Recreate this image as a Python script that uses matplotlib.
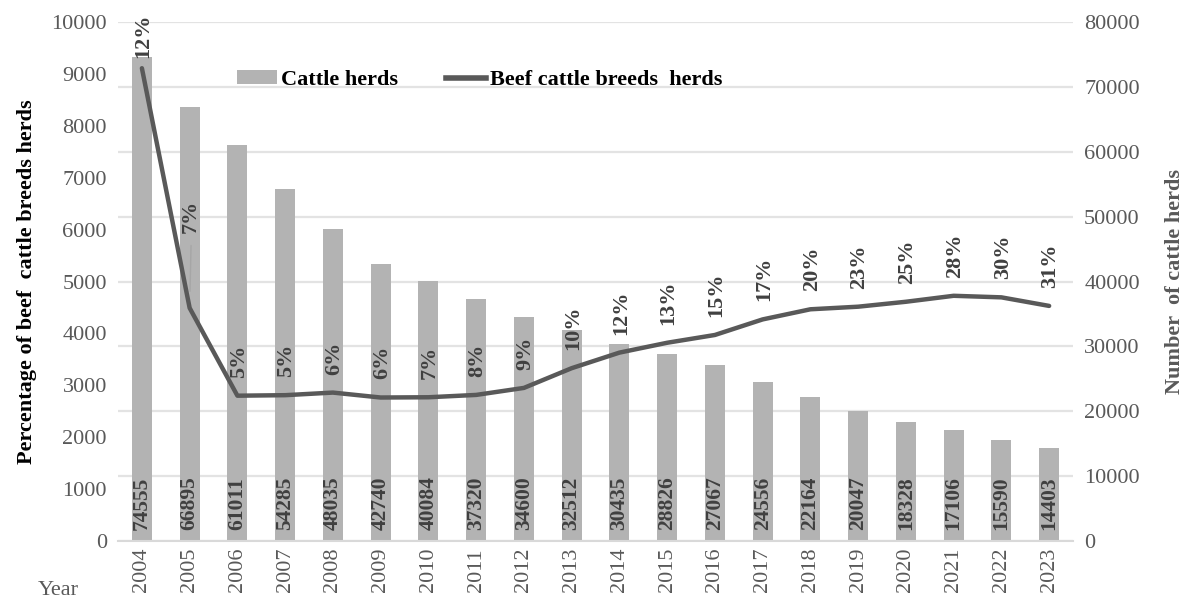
import matplotlib
matplotlib.use("Agg")
import matplotlib.pyplot as plt
import numpy as np
from matplotlib.patches import Patch
from matplotlib.lines import Line2D

plt.rcParams['font.family'] = ['Liberation Serif', 'DejaVu Serif']

years = ['2004', '2005', '2006', '2007', '2008', '2009', '2010', '2011', '2012', '2013',
         '2014', '2015', '2016', '2017', '2018', '2019', '2020', '2021', '2022', '2023']
cattle_herds = [74555, 66895, 61011, 54285, 48035, 42740, 40084, 37320, 34600, 32512,
                30435, 28826, 27067, 24556, 22164, 20047, 18328, 17106, 15590, 14403]
beef_herds = [9110, 4490, 2800, 2810, 2860, 2765, 2770, 2815, 2950, 3330,
              3630, 3820, 3970, 4270, 4465, 4515, 4610, 4725, 4695, 4530]
pct_labels = ['12%', '7%', '5%', '5%', '6%', '6%', '7%', '8%', '9%', '10%',
              '12%', '13%', '15%', '17%', '20%', '23%', '25%', '28%', '30%', '31%']

BAR_C = '#b3b3b3'
LINE_C = '#595959'
TICK_C = '#595959'
GRID_C = '#e3e3e3'

fig = plt.figure(figsize=(11.85, 6.0), dpi=100)
rect = [0.0996, 0.0983, 0.8059, 0.865]
ax2 = fig.add_axes(rect)                 # right axis (bars)
ax = fig.add_axes(rect, sharex=ax2)      # left axis (line)

x = np.arange(len(years))

# bars on right axis
ax2.bar(x, cattle_herds, width=0.42, color=BAR_C, zorder=2)
ax2.set_ylim(0, 80000)
ax2.set_yticks(np.arange(0, 80001, 10000))
ax2.yaxis.tick_right()
ax2.yaxis.set_label_position('right')
ax2.grid(axis='y', color=GRID_C, linewidth=1.6, zorder=0)
ax2.set_axisbelow(True)
for s in ['top', 'left', 'right']:
    ax2.spines[s].set_visible(False)
ax2.spines['bottom'].set_color('#d9d9d9')
ax2.spines['bottom'].set_linewidth(1.5)
ax2.tick_params(axis='y', length=0, labelsize=16, labelcolor=TICK_C, pad=8)
ax2.tick_params(axis='x', length=0, labelsize=16, labelcolor=TICK_C, pad=5)
ax2.set_xticks(x)
ax2.set_xticklabels(years, rotation=90)
ax2.set_xlim(-0.5, len(years) - 0.5)
ax2.set_ylabel('Number  of cattle herds', fontsize=16, fontweight='bold',
               color=LINE_C, labelpad=18)

for xi, v in zip(x, cattle_herds):
    ax2.annotate(str(v), (xi, 0), xytext=(0, 8), textcoords='offset points',
                 rotation=90, ha='center', va='bottom', fontsize=15.5,
                 fontweight='bold', color='#404040', zorder=3)

# line on left axis, drawn on top
ax.set_zorder(ax2.get_zorder() + 1)
ax.patch.set_visible(False)
ax.plot(x, beef_herds, color=LINE_C, linewidth=3.2, solid_capstyle='round',
        solid_joinstyle='round', zorder=4)
ax.set_ylim(0, 10000)
ax.set_yticks(np.arange(0, 10001, 1000))
for s in ['top', 'right', 'bottom', 'left']:
    ax.spines[s].set_visible(False)
ax.tick_params(axis='y', length=0, labelsize=16, labelcolor=TICK_C, pad=8)
ax.tick_params(axis='x', bottom=False, labelbottom=False)
ax.set_ylabel('Percentage of beef  cattle breeds herds', fontsize=16,
              fontweight='bold', color='black', labelpad=10)

for i, (xi, v, lab) in enumerate(zip(x, beef_herds, pct_labels)):
    if i == 1:
        continue
    off = 7 if i == 0 else 13
    ax.annotate(lab, (xi, v), xytext=(1, off), textcoords='offset points',
                rotation=90, ha='center', va='bottom', fontsize=16,
                fontweight='bold', color='#404040', zorder=5)

# 2005 label with leader line
ax.annotate(pct_labels[1], (x[1], beef_herds[1]), xytext=(1, 54),
            textcoords='offset points', rotation=90, ha='center', va='bottom',
            fontsize=16, fontweight='bold', color='#404040', zorder=5)
ax.annotate('', xy=(x[1], beef_herds[1]), xytext=(1, 45), textcoords='offset points',
            arrowprops=dict(arrowstyle='-', color='#a6a6a6', linewidth=1,
                            shrinkA=0, shrinkB=12), zorder=5)

# legend
handles = [Patch(facecolor=BAR_C, edgecolor='none'),
           Line2D([0], [0], color=LINE_C, linewidth=4)]
ax.legend(handles, ['Cattle herds', 'Beef cattle breeds  herds'], ncol=2,
          loc='center left', bbox_to_anchor=(0.115, 0.888), frameon=False,
          prop={'size': 16, 'weight': 'bold'}, handlelength=1.8,
          handleheight=0.6, handletextpad=0.2, columnspacing=2.13,
          borderaxespad=0)

fig.text(0.049, 0.0, 'Year', fontsize=16, color=TICK_C, ha='center', va='bottom')

fig.savefig('out.png', dpi=100)
